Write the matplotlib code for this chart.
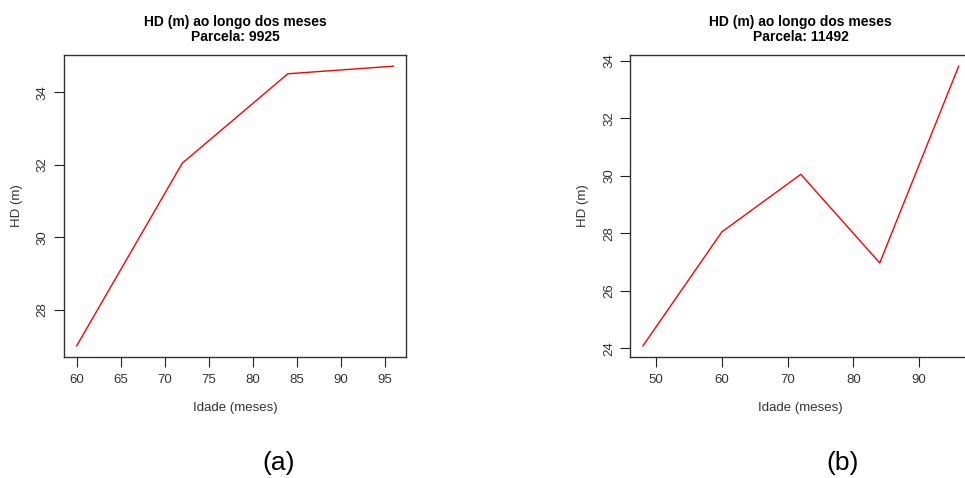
import matplotlib
matplotlib.use('Agg')
from matplotlib import pyplot as plt

plt.rcParams['font.family'] = ['Liberation Sans', 'DejaVu Sans']

#%% data
idade_a = [60, 72, 84, 96]
hd_a = [27.0, 32.04, 34.51, 34.72]
xticks_a = [60, 65, 70, 75, 80, 85, 90, 95]
yticks_a = [28, 30, 32, 34]

idade_b = [48, 60, 72, 84, 96]
hd_b = [24.09, 28.05, 30.05, 26.97, 33.81]
xticks_b = [50, 60, 70, 80, 90]
yticks_b = [24, 26, 28, 30, 32, 34]

parcelas = ['9925', '11492']
letras = ['(a)', '(b)']

#%%
fig = plt.figure(figsize=(9.65, 4.78), dpi=100)

ax_a = fig.add_axes([64/965, 121/478, 342/965, 302/478])
ax_b = fig.add_axes([630.3/965, 121/478, 341/965, 302/478])


def r_plot(ax, x, y, xticks, yticks, parcela):
    ax.plot(x, y, color='red', lw=1.0)
    # R style: 4% padding on each side
    xr = max(x) - min(x)
    yr = max(y) - min(y)
    ax.set_xlim(min(x) - 0.04 * xr, max(x) + 0.04 * xr)
    ax.set_ylim(min(y) - 0.04 * yr, max(y) + 0.04 * yr)
    ax.set_xticks(xticks)
    ax.set_yticks(yticks)
    ax.tick_params(direction='out', length=7, width=0.8, colors='#222222',
                   labelsize=9.5, labelcolor='#333333')
    ax.tick_params(axis='x', pad=5)
    ax.tick_params(axis='y', pad=4)
    plt.setp(ax.get_yticklabels(), rotation=90, va='center')
    for s in ax.spines.values():
        s.set_linewidth(1.0)
        s.set_color('#333333')
    ax.set_xlabel('Idade (meses)', fontsize=9.5, color='#333333', labelpad=12)
    ax.set_ylabel('HD (m)', fontsize=9.5, color='#333333', labelpad=10)
    ax.set_title('HD (m) ao longo dos meses\nParcela: ' + parcela,
                 fontsize=10, fontweight='bold', linespacing=1.1, pad=10)


r_plot(ax_a, idade_a, hd_a, xticks_a, yticks_a, parcelas[0])
r_plot(ax_b, idade_b, hd_b, xticks_b, yticks_b, parcelas[1])

fig.text(279/965, 1 - 463/478, letras[0], fontsize=19, ha='center', va='center')
fig.text(843/965, 1 - 463/478, letras[1], fontsize=19, ha='center', va='center')

plt.savefig('out.png', dpi=100)
